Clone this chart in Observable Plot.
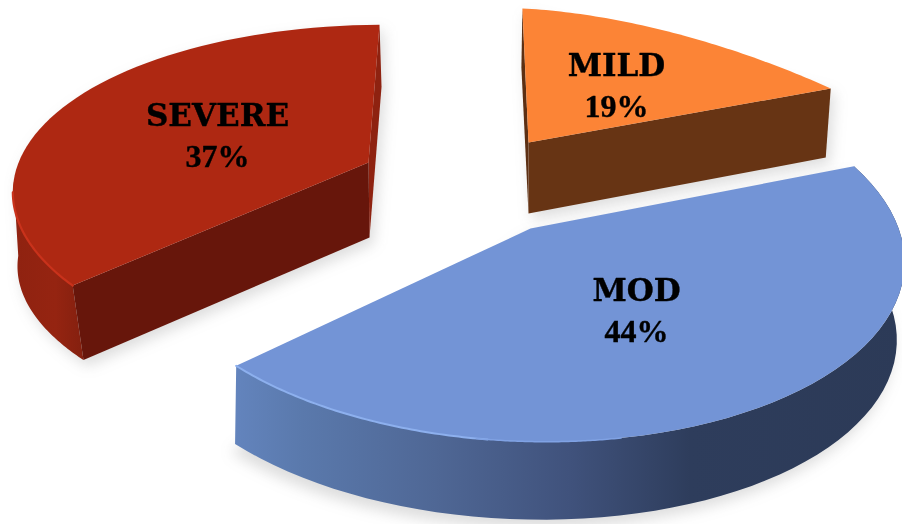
<!doctype html><html><head><meta charset="utf-8"><style>html,body{margin:0;padding:0;background:#fff;overflow:hidden}svg{display:block}</style></head><body><script src="https://cdn.jsdelivr.net/npm/d3@7"></script><script src="https://cdn.jsdelivr.net/npm/@observablehq/plot@0.6"></script><script>
const categories=["SEVERE","MILD","MOD"];
const percents=[37,19,44];
const topColors=["#ae2812","#fc8436","#7394d6"];
const cutColors=["#67160b","#673414","#2d3b59"];

// Perspective layout for each exploded slice (rim ellipse; sweep comes from the percent)
const layout={
 SEVERE:{cx:396.1,cy:197,a:383.8,b:172.7,rot:1,start:-93,dir:-1,perPct:3.24,apex:[368,162],
   wall:{dx:43,dy:75,sx:1.1},wallFrom:.7,slit:[2,62],depth:[1,75],label:[217,116]},
 MILD:{cx:706.8,cy:209.4,a:397.7,b:159.1,rot:20,start:-127.6,dir:1,perPct:2.547,apex:[528,142],
   wall:{dx:-5,dy:69,sx:1},wallFrom:1,slit:[-1,59],depth:[0,71],label:[616,66]},
 MOD:{cx:526.1,cy:251.8,a:378.2,b:189.1,rot:2,start:-31,dir:1,perPct:3.868,apex:[530,228],
   wall:{dx:-4,dy:78,sx:.99},wallFrom:0,slit:[0,0],depth:[0,0],label:[636,291]}
};

function rim(name,f0=0,f1=1,w=null){
 const L=layout[name],pct=percents[categories.indexOf(name)],r=L.rot*Math.PI/180,pts=[],n=60;
 for(let i=0;i<=n;i++){
  const f=f0+(f1-f0)*i/n,t=(L.start+L.dir*pct*L.perPct*f)*Math.PI/180;
  const sx=w?w.sx:1,u=L.a*sx*Math.cos(t),v=L.b*Math.sin(t);
  pts.push([L.cx+(w?w.dx:0)+u*Math.cos(r)-v*Math.sin(r),L.cy+(w?w.dy:0)+u*Math.sin(r)+v*Math.cos(r)]);
 }
 return pts;
}
const add=(p,d)=>[p[0]+d[0],p[1]+d[1]];
function face(pts,fill,extra={}){
 return Plot.line(pts,{x:d=>d[0],y:d=>d[1],fill,stroke:"none",curve:"linear-closed",...extra});
}
function edge(pts,stroke,width,extra={}){
 return Plot.line(pts,{x:d=>d[0],y:d=>d[1],stroke,strokeWidth:width,fill:"none",...extra});
}
function silhouette(name){
 const L=layout[name],R=rim(name),B=rim(name,L.wallFrom,1,L.wall);
 const ab=add(L.apex,L.depth);
 if(name==="MOD")return [...B,ab,R[0]];
 if(name==="MILD")return [R[0],R[R.length-1],B[B.length-1],ab,add(R[0],L.slit)];
 return [R[0],add(R[0],L.slit),ab,B[B.length-1],...B.slice().reverse(),...rim(name,0,L.wallFrom).reverse()];
}
function wallPoly(name){
 const L=layout[name];
 return [...rim(name,L.wallFrom,1),...rim(name,L.wallFrom,1,L.wall).reverse()];
}
function topPoly(name){return [...rim(name),layout[name].apex];}
function cutFront(name){
 const L=layout[name],R=rim(name),B=rim(name,0,1,L.wall),e=R.length-1;
 return [L.apex,R[e],B[e],add(L.apex,L.depth)];
}
function cutSide(name){
 const L=layout[name],R=rim(name);
 return [R[0],add(R[0],L.slit),add(L.apex,L.depth),L.apex];
}

const defs=()=>{
 const s=d3.create("svg:defs");
 const g=s.append("linearGradient").attr("id","modWall");
 [[0,"#6384bd"],[.1,"#5a79ac"],[.3,"#4f6795"],[.5,"#40527c"],[.68,"#2e3d5c"],[1,"#2c3a57"]].forEach(([o,c])=>g.append("stop").attr("offset",o).attr("stop-color",c));
 const h=s.append("linearGradient").attr("id","sevWall");
 [[0,"#8f2210"],[.6,"#952411"],[1,"#84200f"]].forEach(([o,c])=>h.append("stop").attr("offset",o).attr("stop-color",c));
 return s.node();
};

const labelRows=categories.map((c,i)=>({c,p:percents[i]+"%",x:layout[c].label[0],y:layout[c].label[1]}));
const nameFont={fontFamily:"'DejaVu Serif',serif",fontWeight:"bold",fontSize:31,fill:"#000",stroke:"#000",strokeWidth:.4,lineAnchor:"middle",textAnchor:"middle"};
const pctFont={...nameFont,fontFamily:"'Liberation Serif',serif",fontSize:32};
const shadow={imageFilter:"blur(7px)",fillOpacity:.2};

const chart=Plot.plot({
 width:902,height:524,margin:0,
 x:{type:"linear",domain:[0,902],range:[0,902],axis:null},
 y:{type:"linear",domain:[0,524],range:[0,524],axis:null},
 style:{background:"#fff",filter:"blur(.45px)"},
 marks:[
  defs,
  ...categories.map(c=>face(silhouette(c).map(p=>add(p,c==="MOD"?[-4,8]:[4,6])),"#555",shadow)),
  // SEVERE
  face(wallPoly("SEVERE"),"url(#sevWall)"),
  face(cutSide("SEVERE"),"#8e2210"),
  face(cutFront("SEVERE"),cutColors[0]),
  face(topPoly("SEVERE"),topColors[0]),
  edge(rim("SEVERE",.73,1),"#c9321b",2.2),
  // MILD
  face(cutSide("MILD"),"#5c2f13"),
  face(cutFront("MILD"),cutColors[1]),
  face(topPoly("MILD"),topColors[1]),
  // MOD
  face(wallPoly("MOD"),"url(#modWall)"),
  face(topPoly("MOD"),topColors[2]),
  edge(rim("MOD",.74,1),"#8db0ee",2),
  edge(rim("MOD",.62,.75),"#80a2e4",1.5),
  Plot.text(labelRows,{x:"x",y:"y",text:"c",...nameFont}),
  Plot.text(labelRows,{x:"x",y:d=>d.y+40,text:"p",...pctFont})
 ]
});
document.body.append(chart);
</script></body></html>
